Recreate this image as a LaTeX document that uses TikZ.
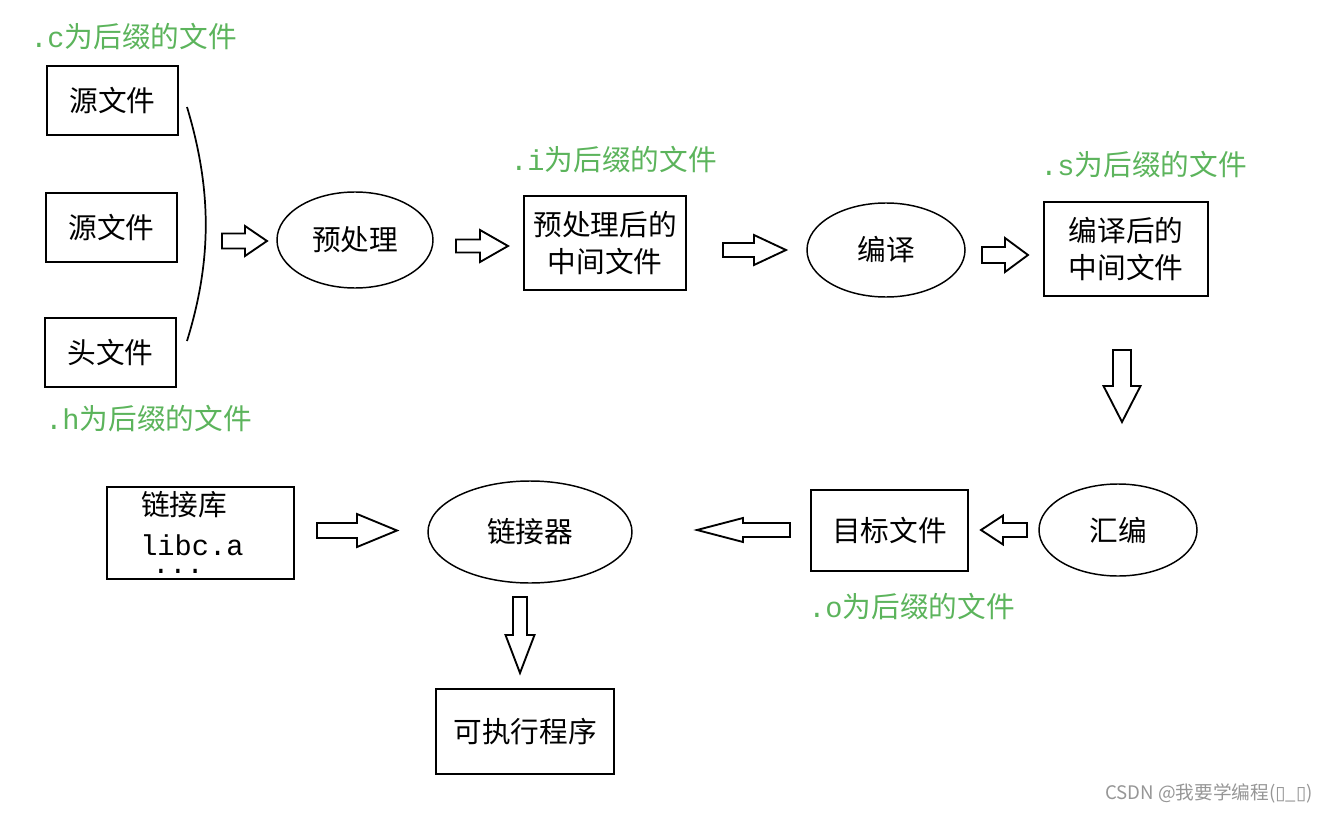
\documentclass[tikz,border=0pt]{standalone}
\usepackage{fontspec}
\setmainfont{Noto Sans CJK SC}
\newfontfamily\cjk{Noto Sans CJK SC}
\newfontfamily\mono{Liberation Mono}
\newfontfamily\dvs{DejaVu Sans}
\usetikzlibrary{shapes.geometric}
\definecolor{lblgreen}{RGB}{92,180,92}
\definecolor{wmgray}{RGB}{150,150,150}
\newcommand\rarr[6]{\draw[blk] (#1,#3-#4) -- (#2-#6,#3-#4) -- (#2-#6,#3-#5) -- (#2,#3) -- (#2-#6,#3+#5) -- (#2-#6,#3+#4) -- (#1,#3+#4) -- cycle;}
\newcommand\larr[6]{\draw[blk] (#2,#3-#4) -- (#1+#6,#3-#4) -- (#1+#6,#3-#5) -- (#1,#3) -- (#1+#6,#3+#5) -- (#1+#6,#3+#4) -- (#2,#3+#4) -- cycle;}
\newcommand\darr[6]{\draw[blk] (#1-#4,#2) -- (#1-#4,#3-#6) -- (#1-#5,#3-#6) -- (#1,#3) -- (#1+#5,#3-#6) -- (#1+#4,#3-#6) -- (#1+#4,#2) -- cycle;}
\begin{document}
\begin{tikzpicture}[x=0.75pt,y=-0.75pt,
  txt/.style={font=\cjk\fontsize{21.5}{28}\selectfont},
  rbox/.style={txt,draw,line width=1.5pt,inner sep=0pt,align=center},
  oval/.style={txt,draw,ellipse,line width=1.1pt,inner sep=0pt},
  lbl/.style={font=\cjk\fontsize{21.5}{26}\selectfont,text=lblgreen,anchor=west,inner sep=0pt},
  blk/.style={draw,line width=1.4pt,line join=miter,fill=white},
  brace/.style={line width=1.3pt}]
\useasboundingbox (0,0) rectangle (1327,813);
% left boxes
\node[rbox,minimum width=98.25pt,minimum height=51.75pt] (src1) at (112.5,100.5) {源文件};
\node[rbox,minimum width=98.25pt,minimum height=51.75pt] (src2) at (111.5,227.5) {源文件};
\node[rbox,minimum width=98.25pt,minimum height=51.75pt] (hdr) at (110.5,352.5) {头文件};
\node[lbl] (lc) at (30,37) {{\mono .c}为后缀的文件};
\node[lbl] (lh) at (45,419) {{\mono .h}为后缀的文件};
\coordinate (bt) at (187,107);
\coordinate (bb) at (187,341);
\draw[brace] (bt) .. controls (212,190) and (212,260) .. (bb);
% top row
\node[oval,minimum width=117pt,minimum height=72pt] (pre) at (355,240) {预处理};
\node[rbox,minimum width=121.5pt,minimum height=70.5pt] (prebox) at (605,243) {预处理后的\\中间文件};
\node[lbl] (li) at (510,160) {{\mono .i}为后缀的文件};
\node[oval,minimum width=118.5pt,minimum height=70.5pt] (comp) at (886,250) {编译};
\node[rbox,minimum width=123pt,minimum height=70.5pt] (compbox) at (1126,249) {编译后的\\中间文件};
\node[lbl] (ls) at (1040,165) {{\mono .s}为后缀的文件};
% bottom row
\node[oval,minimum width=118.5pt,minimum height=69pt] (asm) at (1118,530) {汇编};
\node[rbox,minimum width=117.75pt,minimum height=60.75pt] (obj) at (889.5,530.5) {目标文件};
\node[lbl] (lo) at (808,607) {{\mono .o}为后缀的文件};
\node[oval,minimum width=153pt,minimum height=76.5pt] (link) at (530,532) {链接器};
\node[rbox,minimum width=140.25pt,minimum height=69pt] (lib) at (200.5,533) {};
\node[txt,anchor=west,inner sep=0pt] (libt1) at (141,505) {链接库};
\node[txt,anchor=west,inner sep=0pt,align=left] (libt2) at (140,554) {\mono libc.a\\[-15pt]\hspace*{9pt}\mono ...};
\node[rbox,minimum width=133.5pt,minimum height=63.75pt] (exe) at (525,731.5) {可执行程序};
% block arrows
\rarr{222}{267}{241}{7.5}{15}{22}
\rarr{456}{508}{246}{6.5}{16}{28}
\rarr{723}{786}{250}{7}{15}{32}
\rarr{982}{1028}{255}{8}{17}{23}
\darr{1122}{350}{422}{9}{18.5}{36}
\larr{981}{1027}{530}{7}{14.5}{22}
\larr{697}{790}{530}{7}{12}{46}
\rarr{317}{397}{530.5}{7.5}{16.5}{40}
\darr{520}{597}{673}{7}{14.5}{38}
% watermark
\node[anchor=east,inner sep=0pt,text=wmgray,font=\cjk\fontsize{14}{17}\selectfont] (wm) at (1313,793) {CSDN @我要学编程({\dvs ▯}\_{\dvs ▯})};
\end{tikzpicture}
\end{document}
